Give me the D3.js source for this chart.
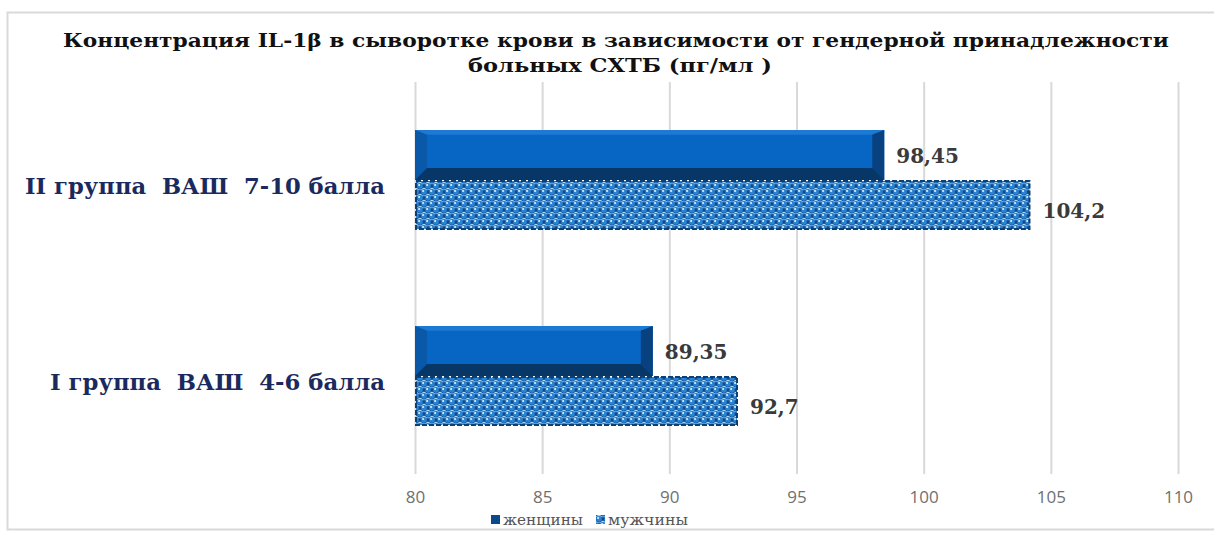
<!DOCTYPE html>
<html><head><meta charset="utf-8">
<script src="https://cdn.jsdelivr.net/npm/d3@7"></script>
<style>html,body{margin:0;padding:0;background:#fff;}svg{display:block;}</style>
</head><body>
<svg id="chart" width="1214" height="534"></svg>
<script>
const categories = ["II группа  ВАШ  7-10 балла", "I группа  ВАШ  4-6 балла"];
const seriesNames = ["женщины", "мужчины"];
const women = [98.45, 89.35];
const men = [104.2, 92.7];
const womenLabels = ["98,45", "89,35"];
const menLabels = ["104,2", "92,7"];
const xTicks = [80, 85, 90, 95, 100, 105, 110];
const titleLines = ["Концентрация IL-1β в сыворотке крови в зависимости от гендерной принадлежности", "больных СХТБ (пг/мл )"];

const svg = d3.select("#chart");
const W = 1214, H = 534;
const m = {left: 415, right: 36, top: 82, bottom: 60};
const serif = "'DejaVu Serif', serif";

// frame
svg.append("rect").attr("x", 7.5).attr("y", 12.5).attr("width", W + 10).attr("height", 517)
  .attr("fill", "#fff").attr("stroke", "#d9d9d9").attr("stroke-width", 2);

const defs = svg.append("defs");
const pat = defs.append("pattern").attr("id", "dots").attr("patternUnits", "userSpaceOnUse")
  .attr("width", 8).attr("height", 12);
pat.append("rect").attr("width", 8).attr("height", 12).attr("fill", "#a9d8f5");
[[4,0],[0,6],[8,6],[4,12]].forEach(([cx,cy]) => {
  pat.append("circle").attr("cx", cx).attr("cy", cy).attr("r", 2).attr("fill", "#0d4a8c");
});
[[0,0],[8,0],[4,6],[0,12],[8,12]].forEach(([cx,cy]) => {
  pat.append("circle").attr("cx", cx).attr("cy", cy + 0.4).attr("r", 3.1).attr("fill", "#0f559c");
  pat.append("circle").attr("cx", cx).attr("cy", cy).attr("r", 2.7).attr("fill", "#2a84d6");
  pat.append("circle").attr("cx", cx - 0.9).attr("cy", cy - 1).attr("r", 1).attr("fill", "#e6f6ff");
});

const x = d3.scaleLinear().domain([80, 110]).range([m.left, W - m.right]);
const y = d3.scaleBand().domain(categories).range([m.top, H - m.bottom]).paddingInner(0.49).paddingOuter(0.245);
const ySub = d3.scaleBand().domain(seriesNames).range([0, y.bandwidth()]);

// grid
svg.append("g").selectAll("line").data(xTicks).join("line")
  .attr("x1", d => x(d) + 0.5).attr("x2", d => x(d) + 0.5)
  .attr("y1", m.top).attr("y2", H - m.bottom)
  .attr("stroke", "#d9d9d9").attr("stroke-width", 2);

// x axis labels
const xAxis = d3.axisBottom(x).tickValues(xTicks).tickSize(0).tickPadding(0);
const gx = svg.append("g").attr("transform", `translate(0,${H - m.bottom + 17})`).call(xAxis);
gx.select(".domain").remove();
gx.selectAll("text").attr("font-family", "'Open Sans', sans-serif").attr("font-size", 17)
  .attr("fill", "#707070");

// women bars with bevel
const bev = 12;
categories.forEach((c, i) => {
  const y0 = y(c) + ySub("женщины"), h = ySub.bandwidth();
  const x0 = x(80), x1 = x(women[i]);
  const g = svg.append("g");
  g.append("rect").attr("x", x0).attr("y", y0).attr("width", x1 - x0).attr("height", h).attr("fill", "#0766c4");
  g.append("polygon").attr("points", [[x0,y0],[x1,y0],[x1-bev,y0+bev*0.4],[x0+bev,y0+bev*0.4]].join(" ")).attr("fill", "#1c7ad4");
  g.append("polygon").attr("points", [[x0,y0],[x0+bev,y0+bev*0.4],[x0+bev,y0+h-bev],[x0,y0+h]].join(" ")).attr("fill", "#0a58a8");
  g.append("polygon").attr("points", [[x1,y0],[x1-bev,y0+bev*0.4],[x1-bev,y0+h-bev],[x1,y0+h]].join(" ")).attr("fill", "#074180");
  g.append("polygon").attr("points", [[x0,y0+h],[x0+bev,y0+h-bev],[x1-bev,y0+h-bev],[x1,y0+h]].join(" ")).attr("fill", "#063766");
  g.append("text").attr("x", x1 + 12).attr("y", y0 + h / 2 + 8)
    .attr("font-family", serif).attr("font-weight", "bold").attr("font-size", 20)
    .attr("fill", "#3a3a3a").text(womenLabels[i]);
});

// men bars with pattern
categories.forEach((c, i) => {
  const y0 = y(c) + ySub("мужчины"), h = ySub.bandwidth();
  const x0 = x(80), x1 = x(men[i]);
  svg.append("rect").attr("x", x0 + 1).attr("y", y0 + 1).attr("width", x1 - x0 - 2).attr("height", h - 2)
    .attr("fill", "url(#dots)").attr("stroke", "#0d3f74").attr("stroke-width", 2).attr("stroke-dasharray", "5,2");
  svg.append("text").attr("x", x1 + 12).attr("y", y0 + h / 2 + 13)
    .attr("font-family", serif).attr("font-weight", "bold").attr("font-size", 20)
    .attr("fill", "#3a3a3a").text(menLabels[i]);
});

// category labels
const catLen = [360, 335];
svg.append("g").selectAll("text").data(categories).join("text")
  .attr("x", 385).attr("y", d => y(d) + y.bandwidth() / 2 + 14)
  .attr("text-anchor", "end").attr("font-family", serif).attr("font-weight", "bold")
  .attr("font-size", 23).attr("fill", "#1b2a5e").attr("xml:space", "preserve")
  .attr("textLength", (d, i) => catLen[i]).attr("lengthAdjust", "spacingAndGlyphs").text(d => d);

// title
svg.append("text").attr("x", 616).attr("y", 47).attr("text-anchor", "middle")
  .attr("font-family", serif).attr("font-weight", "bold").attr("font-size", 19)
  .attr("fill", "#111").attr("textLength", 1106).attr("lengthAdjust", "spacingAndGlyphs").text(titleLines[0]);
svg.append("text").attr("x", 620).attr("y", 72).attr("text-anchor", "middle")
  .attr("font-family", serif).attr("font-weight", "bold").attr("font-size", 19)
  .attr("fill", "#111").attr("textLength", 304).attr("lengthAdjust", "spacingAndGlyphs").text(titleLines[1]);

// legend
const leg = svg.append("g").attr("transform", "translate(491,525)");
const legItems = [{name: "женщины", x: 0, fill: "#0b4a8a"}, {name: "мужчины", x: 105, fill: "url(#dots)"}];
legItems.forEach(it => {
  leg.append("rect").attr("x", it.x).attr("y", -10).attr("width", 9).attr("height", 9).attr("fill", it.fill);
  leg.append("text").attr("x", it.x + 12).attr("y", 0).attr("font-family", serif)
    .attr("font-size", 15).attr("fill", "#555").attr("textLength", 80).attr("lengthAdjust", "spacingAndGlyphs").text(it.name);
});
</script>
</body></html>
